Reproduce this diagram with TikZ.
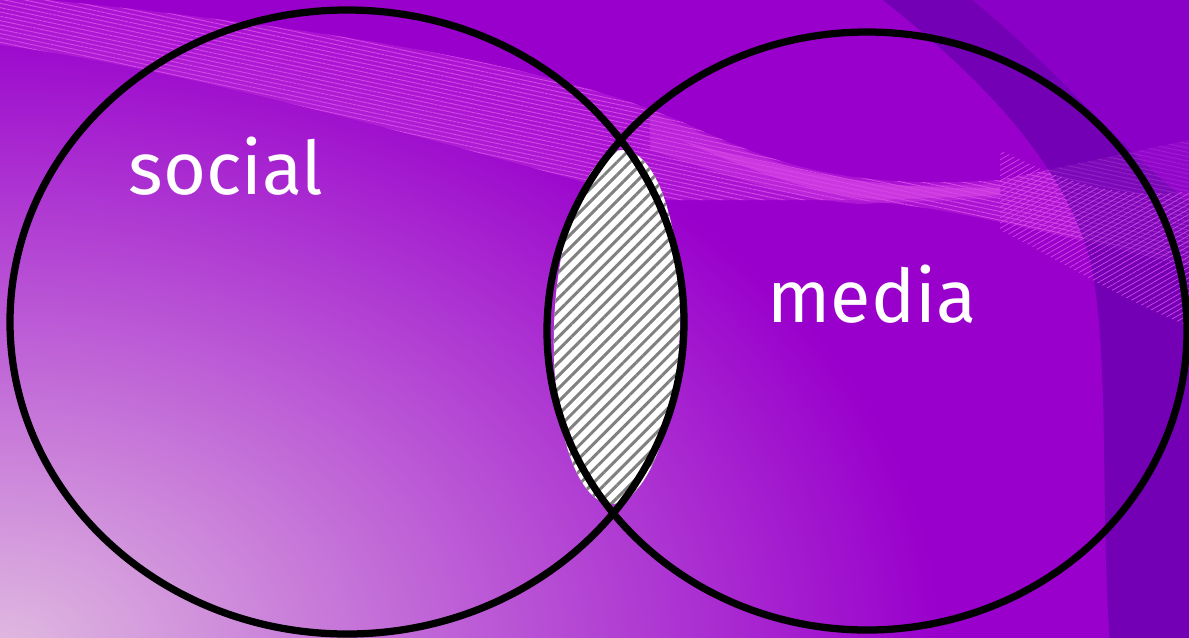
\documentclass[tikz,border=0pt]{standalone}
\usepackage{fontspec}
\newfontfamily\labelfont{Fira Sans}
\usetikzlibrary{patterns.meta}
\definecolor{bgpurple}{RGB}{153,0,204}
\definecolor{glowpink}{RGB}{224,186,224}
\definecolor{bandpink}{RGB}{200,60,225}
\definecolor{streakpink}{RGB}{215,70,230}
\definecolor{darkviolet}{RGB}{80,0,160}
\definecolor{cornerviolet}{RGB}{130,0,196}
\definecolor{hatchgray}{RGB}{128,128,128}
\tikzset{
  ring/.style={draw=black, line width=0.145cm},
  lbl/.style={text=white, font=\labelfont\fontsize{42}{42}\selectfont, inner sep=0pt},
}
\begin{document}
\begin{tikzpicture}[x=0.02cm, y=-0.02cm]
\useasboundingbox (0,0) rectangle (1189,637);
\begin{scope}
\clip (0,0) rectangle (1189,637);
% base
\fill[bgpurple] (-10,-10) rectangle (1199,647);
% bottom-left glow
\shade[inner color=glowpink, outer color=bgpurple] (0,650) ellipse [x radius=940, y radius=640];
% light band
\fill[bandpink, fill opacity=0.35]
  (0,-5) .. controls (300,25) and (550,60) .. (700,130)
  .. controls (780,165) and (850,190) .. (1000,180) -- (1189,140) -- (1189,265)
  .. controls (1050,235) and (950,205) .. (850,200) -- (650,200)
  .. controls (500,160) and (200,70) .. (0,45) -- cycle;
\fill[pattern={Lines[angle=-12, distance=2.4pt, line width=0.5pt]}, pattern color=streakpink]
  (0,-5) .. controls (300,25) and (550,60) .. (700,130)
  .. controls (780,165) and (850,190) .. (1000,180) -- (1189,140) -- (1189,265)
  .. controls (1050,235) and (950,205) .. (850,200) -- (650,200)
  .. controls (500,160) and (200,70) .. (0,45) -- cycle;
\fill[streakpink, fill opacity=0.6] (680,140) .. controls (760,175) and (820,195) .. (880,200) -- (1000,195) -- (1000,188) .. controls (900,190) and (820,180) .. (680,140) -- cycle;
\fill[streakpink, fill opacity=0.35] (650,112) .. controls (740,150) and (820,185) .. (900,186) -- (1000,184) -- (1000,198) -- (860,204) .. controls (800,200) and (740,180) .. (650,150) -- cycle;
% dark right region
\fill[darkviolet, fill opacity=0.5]
  (870,-10) .. controls (960,60) and (1060,150) .. (1090,260)
  .. controls (1110,350) and (1100,500) .. (1110,647) -- (1199,647) -- (1199,210)
  .. controls (1120,150) and (1050,60) .. (960,-10) -- cycle;
\fill[cornerviolet, fill opacity=0.6]
  (960,-10) .. controls (1050,60) and (1120,150) .. (1199,210) -- (1199,-10) -- cycle;
\fill[pattern={Lines[angle=30, distance=2.6pt, line width=0.4pt]}, pattern color=streakpink, fill opacity=0.5]
  (1000,150) .. controls (1080,190) and (1130,200) .. (1199,190) -- (1199,330) .. controls (1120,300) and (1060,260) .. (1000,230) -- cycle;
\end{scope}
% hatched intersection
\fill[white, rotate around={-2:(617,327)}] (617,327) ellipse [x radius=63, y radius=177];
\fill[pattern={Lines[angle=45, distance=5.2pt, line width=1.7pt]}, pattern color=hatchgray, rotate around={-2:(617,327)}] (617,327) ellipse [x radius=63, y radius=177];
% circles
\draw[ring] (347,322) ellipse [x radius=337, y radius=312];
\draw[ring] (867,331) ellipse [x radius=320, y radius=299];
% labels
\node[lbl, anchor=base] (social) at (226,194) {social};
\node[lbl, anchor=base] (media) at (872,322) {media};
\end{tikzpicture}
\end{document}
